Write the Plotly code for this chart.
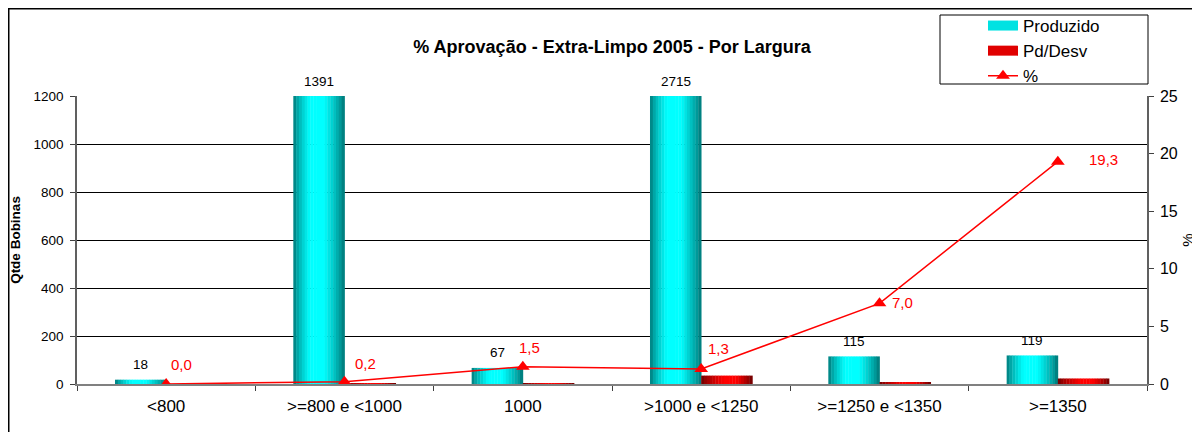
import plotly.graph_objects as go

# ---------------- data ----------------
categories = ["<800", ">=800 e <1000", "1000", ">1000 e <1250", ">=1250 e <1350", ">=1350"]
produzido = [18, 1391, 67, 2715, 115, 119]
pd_desv = [0, 3, 1, 35, 8, 23]
percent = [0.0, 0.2, 1.5, 1.3, 7.0, 19.3]

title_text = "% Aprovação - Extra-Limpo 2005 - Por Largura"
y_left_title = "Qtde Bobinas"
y_right_title = "%"
y_left_max = 1200
y_right_max = 25

# ---------------- style ----------------
FONT = "Liberation Sans, Arial, sans-serif"
OFF = 8                      # page body margin of the html page
W, H = 1200 - OFF, 432 - OFF
ML, MR, MT, MB = 77 - OFF, 53, 96 - OFF, 48
PW = W - ML - MR
PH = H - MT - MB
BAR_W = 0.287
N_SLICES = 18
CAT_PX = PW / len(categories)


def px_x(sx):
    """screen x -> paper x"""
    return (sx - OFF - ML) / PW


def px_y(sy):
    """screen y -> paper y"""
    return (H - MB - (sy - OFF)) / PH


def lerp(c1, c2, s):
    return tuple(int(round(a + (b - a) * s)) for a, b in zip(c1, c2))


def shade(t, p0, p1):
    if t < p0:
        return (t / p0) ** 0.7
    if t <= p1:
        return 1.0
    return ((1 - t) / (1 - p1)) ** 0.8


fig = go.Figure()

series = [
    ("Produzido", produzido, -BAR_W, (0, 112, 112), (0, 255, 255), (0.33, 0.6)),
    ("Pd/Desv", pd_desv, 0.0, (100, 0, 0), (255, 0, 0), (0.45, 0.68)),
]
for name, vals, base_off, dark, bright, (p0, p1) in series:
    for k in range(N_SLICES):
        t = (k + 0.5) / N_SLICES
        col = lerp(dark, bright, shade(t, p0, p1))
        fig.add_trace(go.Bar(
            x=categories, y=vals,
            width=BAR_W / N_SLICES + 0.002,
            offset=base_off + k * BAR_W / N_SLICES,
            marker=dict(color="rgb(%d,%d,%d)" % col, line=dict(width=0)),
            name=name, legendgroup=name, showlegend=False,
            hoverinfo="skip",
        ))
    # legend entry (wide swatch like the original)
    fig.add_trace(go.Scatter(
        x=[None], y=[None], mode="lines", name=name, legendgroup=name,
        line=dict(color="rgb(%d,%d,%d)" % lerp(dark, bright, 0.8), width=12),
    ))

fig.add_trace(go.Scatter(
    x=categories, y=percent, yaxis="y2", name="%",
    mode="lines+markers",
    line=dict(color="#FF0000", width=1.5),
    marker=dict(symbol="triangle-up", size=12, color="#FF0000"),
))

# data labels for Produzido (bars beyond the axis are labelled at the top)
for i, v in enumerate(produzido):
    fig.add_annotation(
        x=i, y=min(v, y_left_max), xref="x", yref="y",
        text=str(v), showarrow=False, xshift=-CAT_PX * BAR_W / 2,
        yshift=15, font=dict(family=FONT, size=13.5, color="#000000"),
    )

# data labels for the % line
pct_shift = [(15, 20), (21, 18), (7, 19), (17, 21), (23, 1), (46, 2)]
for i, (p, (dx, dy)) in enumerate(zip(percent, pct_shift)):
    fig.add_annotation(
        x=i, y=p, xref="x", yref="y2",
        text=f"{p:.1f}".replace(".", ","), showarrow=False,
        xshift=dx, yshift=dy,
        font=dict(family=FONT, size=15, color="#FF0000"),
    )

# outer border and legend box
fig.add_shape(type="rect", xref="paper", yref="paper",
              x0=px_x(8.75), x1=px_x(1300),
              y0=px_y(600), y1=px_y(8.75),
              line=dict(color="#000000", width=1.5), layer="below")
fig.add_shape(type="rect", xref="paper", yref="paper",
              x0=px_x(940), x1=px_x(1148),
              y0=px_y(84), y1=px_y(15),
              line=dict(color="#000000", width=1), fillcolor="white", layer="below")

fig.update_layout(
    width=W, height=H,
    margin=dict(l=ML, r=MR, t=MT, b=MB),
    paper_bgcolor="white", plot_bgcolor="white",
    barmode="overlay",
    font=dict(family=FONT, size=12, color="#000000"),
    title=dict(text="<b>" + title_text + "</b>", x=(612 - OFF) / W, xanchor="center",
               y=1 - (47 - OFF) / H, yanchor="middle",
               font=dict(family=FONT, size=18, color="#000000")),
    showlegend=True,
    legend=dict(x=px_x(983), y=1.0, xanchor="left", yanchor="top", yref="container",
                bgcolor="rgba(0,0,0,0)", borderwidth=0,
                font=dict(family=FONT, size=17, color="#000000"),
                tracegroupgap=0, itemwidth=30),
    xaxis=dict(
        type="category", categoryorder="array", categoryarray=categories,
        range=[-0.5, len(categories) - 0.5], autorange=False,
        showline=True, linecolor="#808080", linewidth=1.5,
        ticks="outside", tickson="boundaries", ticklen=5, tickcolor="#404040",
        tickangle=0, automargin=False, ticklabelstandoff=6,
        tickfont=dict(family=FONT, size=17, color="#000000"),
        showgrid=False, zeroline=False,
    ),
    yaxis=dict(
        range=[0, y_left_max], dtick=200, tickformat="d",
        showline=True, linecolor="#606060", linewidth=1.5,
        ticks="outside", ticklen=5, tickcolor="#404040",
        showgrid=True, gridcolor="#000000", gridwidth=1,
        zeroline=False, automargin=False, ticklabelstandoff=4,
        tickfont=dict(family=FONT, size=13.5, color="#000000"),
        title=dict(text="<b>" + y_left_title + "</b>", standoff=14,
                   font=dict(family=FONT, size=13.5, color="#000000")),
    ),
    yaxis2=dict(
        range=[0, y_right_max], dtick=5, overlaying="y", side="right",
        showline=True, linecolor="#606060", linewidth=1.5,
        ticks="outside", ticklen=5, tickcolor="#404040",
        showgrid=False, zeroline=False, automargin=False, ticklabelstandoff=3,
        tickfont=dict(family=FONT, size=16, color="#000000"),
        title=dict(text=y_right_title, standoff=6,
                   font=dict(family=FONT, size=15, color="#000000")),
    ),
)

fig.write_html("out.html")
